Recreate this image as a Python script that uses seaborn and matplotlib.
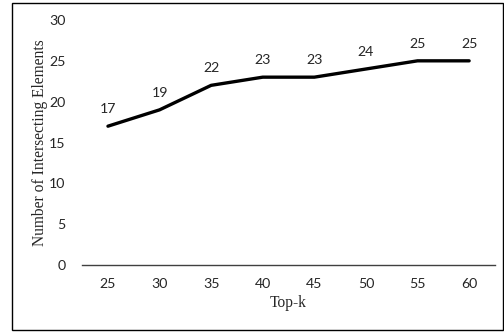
import matplotlib
matplotlib.use("Agg")
import matplotlib.pyplot as plt
import seaborn as sns
import pandas as pd
from matplotlib.patches import Rectangle

top_k = ["25", "30", "35", "40", "45", "50", "55", "60"]
n_intersect = [17, 19, 22, 23, 23, 24, 25, 25]

df = pd.DataFrame({"Top-k": top_k, "count": n_intersect})

sns.set_style("white")
plt.rcParams["font.family"] = ["Lato", "DejaVu Sans"]

fig = plt.figure(figsize=(5.04, 3.33), dpi=100)
ax = fig.add_axes([0.163, 0.204, 0.819, 0.736])

sns.lineplot(data=df, x="Top-k", y="count", color="black", linewidth=2.4,
             sort=False, ax=ax)

for i, v in enumerate(n_intersect):
    ax.annotate(str(v), (i, v), xytext=(0, 8), textcoords="offset points",
                ha="center", va="bottom", fontsize=10.2)

ax.set_xlim(-0.5, len(top_k) - 0.5)
ax.set_ylim(0, 30)
ax.set_yticks(range(0, 31, 5))
ax.tick_params(axis="both", length=0, labelsize=10.2)
ax.tick_params(axis="x", pad=9)
ax.tick_params(axis="y", pad=12)

for s in ["top", "right", "left"]:
    ax.spines[s].set_visible(False)
ax.spines["bottom"].set_color("#404040")
ax.spines["bottom"].set_linewidth(1.0)

ax.set_xlabel("Top-k", family="Liberation Serif", fontsize=11.2, labelpad=4)
ax.set_ylabel("Number of Intersecting Elements", family="Liberation Serif",
              fontsize=11.2, va="center")
ax.yaxis.set_label_coords(-0.102, 0.5)

fig.patches.append(Rectangle((12 / 504, 3 / 333), 491 / 504, 327 / 333,
                             transform=fig.transFigure, fill=False,
                             edgecolor="black", linewidth=1.0))

fig.savefig("out.png", dpi=100)
